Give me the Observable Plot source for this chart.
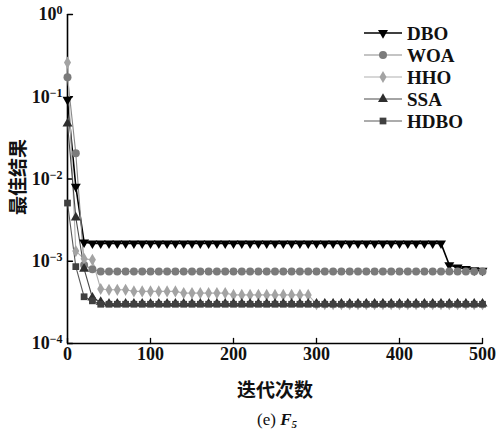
<!DOCTYPE html>
<html>
<head>
<meta charset="utf-8">
<script src="https://cdn.jsdelivr.net/npm/d3@7"></script>
<script src="https://cdn.jsdelivr.net/npm/@observablehq/plot@0.6"></script>
<style>
  body { margin: 0; background: #fff; }
  #wrap { position: relative; width: 498px; height: 437px; overflow: hidden; background: #fff; }
  #wrap > svg.plot { position: absolute; left: 0; top: 0; }
  .lbl { position: absolute; font-family: "Noto Sans CJK SC", sans-serif; font-weight: bold; color: #111; white-space: nowrap; }
  #xlab { left: 175px; width: 200px; top: 378px; text-align: center; font-size: 19px; line-height: 22px; }
  #ylab { left: 17px; top: 177px; font-size: 19px; line-height: 22px; transform: translate(-50%, -50%) rotate(-90deg); }
  #cap { position: absolute; left: 177px; width: 200px; top: 409px; text-align: center; font-family: "Liberation Serif", "Times New Roman", serif; font-size: 17px; line-height: 22px; color: #111; }
  #cap i { font-weight: bold; }
  #cap sub { font-size: 11px; font-style: italic; font-weight: bold; vertical-align: -3px; }
  #legend { position: absolute; left: 0; top: 0; pointer-events: none; }
  svg.plot text { font-family: "Liberation Serif", "Times New Roman", serif !important; font-weight: bold; }
</style>
</head>
<body>
<div id="wrap">
  <div id="ylab" class="lbl">最佳结果</div>
  <div id="xlab" class="lbl">迭代次数</div>
  <div id="cap">(e) <i>F</i><sub>5</sub></div>
</div>
<script>
// ---------- data ----------
const iterations = [0,10,20,30,40,50,60,70,80,90,100,110,120,130,140,150,160,170,180,190,200,
  210,220,230,240,250,260,270,280,290,300,310,320,330,340,350,360,370,380,390,400,
  410,420,430,440,450,460,470,480,490,500];

const seriesNames = ["DBO", "WOA", "HHO", "SSA", "HDBO"];

// one value per entry of `iterations` (0..500 step 10)
const dboValues = [0.092, 0.0081, 0.0017,
  /* 30-120 */ 0.00165,0.00165,0.00165,0.00165,0.00165,0.00165,0.00165,0.00165,0.00165,0.00165,
  /* 130-220 */ 0.00165,0.00165,0.00165,0.00165,0.00165,0.00165,0.00165,0.00165,0.00165,0.00165,
  /* 230-320 */ 0.00165,0.00165,0.00165,0.00165,0.00165,0.00165,0.00165,0.00165,0.00165,0.00165,
  /* 330-420 */ 0.00165,0.00165,0.00165,0.00165,0.00165,0.00165,0.00165,0.00165,0.00165,0.00165,
  /* 430-450 */ 0.00165,0.00165,0.00165,
  /* 460-500 */ 0.00090, 0.00084, 0.00081, 0.00078, 0.00077];

const woaValues = [0.173, 0.0206, 0.0009, 0.0008,
  0.00075,0.00075,0.00075,0.00075,0.00075,0.00075,0.00075,0.00075,0.00075,0.00075,
  0.00075,0.00075,0.00075,0.00075,0.00075,0.00075,0.00075,0.00075,0.00075,0.00075,
  0.00075,0.00075,0.00075,0.00075,0.00075,0.00075,0.00075,0.00075,0.00075,0.00075,
  0.00075,0.00075,0.00075,0.00075,0.00075,0.00075,0.00075,0.00075,0.00075,0.00075,
  0.00075,0.00075,0.00075,0.00075,0.00075,0.00075,0.00075];

const hhoValues = [0.26, 0.00133, 0.00107, 0.00104,
  0.00046, 0.00045, 0.00045, 0.00045,
  0.00043, 0.00043, 0.00043, 0.00043, 0.00043, 0.00043,
  0.00041, 0.00041, 0.00041, 0.00041, 0.00041, 0.00041,
  0.00039, 0.00039, 0.00039, 0.00039, 0.00039, 0.00039, 0.00039, 0.00039, 0.00039, 0.00039,
  0.0003,0.0003,0.0003,0.0003,0.0003,0.0003,0.0003,0.0003,0.0003,0.0003,
  0.0003,0.0003,0.0003,0.0003,0.0003,0.0003,0.0003,0.0003,0.0003,0.0003,0.0003];

const ssaValues = [0.047, 0.0034, 0.00081, 0.00036, 0.00032,
  0.000305,0.000305,0.000305,0.000305,0.000305,0.000305,0.000305,0.000305,0.000305,0.000305,
  0.000305,0.000305,0.000305,0.000305,0.000305,0.000305,0.000305,0.000305,0.000305,0.000305,
  0.000305,0.000305,0.000305,0.000305,0.000305,0.000305,0.000305,0.000305,0.000305,0.000305,
  0.000305,0.000305,0.000305,0.000305,0.000305,0.000305,0.000305,0.000305,0.000305,0.000305,
  0.000305,0.000305,0.000305,0.000305,0.000305,0.000305];

const hdboValues = [0.0051, 0.00086, 0.00037, 0.00033,
  0.0003,0.0003,0.0003,0.0003,0.0003,0.0003,0.0003,0.0003,0.0003,0.0003,
  0.0003,0.0003,0.0003,0.0003,0.0003,0.0003,0.0003,0.0003,0.0003,0.0003,
  0.0003,0.0003,0.0003,0.0003,0.0003,0.0003,0.0003,0.0003,0.0003,0.0003,
  0.0003,0.0003,0.0003,0.0003,0.0003,0.0003,0.0003,0.0003,0.0003,0.0003,
  0.0003,0.0003,0.0003,0.0003,0.0003,0.0003,0.0003];

const xTicks = [0, 100, 200, 300, 400, 500];
const yTicks = [1, 0.1, 0.01, 0.001, 0.0001];
const yTickExponents = ["0", "−1", "−2", "−3", "−4"];
const xDomain = [0, 500];
const yDomain = [0.0001, 1];

// ---------- styles ----------
const styles = {
  DBO:  {symbol: "triangle", rotate: 180, r: 3.7, fill: "#000000", line: "#000000", lw: 1.6},
  WOA:  {symbol: "circle",   rotate: 0,   r: 4.0, fill: "#7b7b7b", line: "#8a8a8a", lw: 1.1},
  HHO:  {symbol: "diamond",  rotate: 0,   r: 3.7, fill: "#a3a3a3", line: "#b0b0b0", lw: 1.1},
  SSA:  {symbol: "triangle", rotate: 0,   r: 3.7, fill: "#2e2e2e", line: "#4a4a4a", lw: 1.1},
  HDBO: {symbol: "square",   rotate: 0,   r: 3.8, fill: "#404040", line: "#5a5a5a", lw: 1.1}
};
const valuesBySeries = {DBO: dboValues, WOA: woaValues, HHO: hhoValues, SSA: ssaValues, HDBO: hdboValues};

const rows = {};
for (const name of seriesNames) {
  rows[name] = iterations.map((it, i) => ({it, v: valuesBySeries[name][i], s: name}));
}

const tickShape = {
  draw(context, l) { context.moveTo(0, 0); context.lineTo(0, -l); }
};

const serif = "Liberation Serif, Times New Roman, serif";

const marks = [
  Plot.ruleX([xDomain[0]], {x: d => d, stroke: "#000", strokeWidth: 1.6}),
  Plot.ruleY([yDomain[0]], {y: d => d, stroke: "#000", strokeWidth: 1.6}),
  Plot.vector(yTicks, {x: () => xDomain[0], y: d => d, length: 5, rotate: 90, anchor: "start", shape: tickShape, stroke: "#000", strokeWidth: 1.3}),
  Plot.vector(xTicks, {x: d => d, y: () => yDomain[0], length: 5, rotate: 0, anchor: "start", shape: tickShape, stroke: "#000", strokeWidth: 1.3})
];
for (const name of seriesNames) {
  const st = styles[name];
  marks.push(Plot.line(rows[name], {x: "it", y: "v", stroke: st.line, strokeWidth: st.lw}));
}
for (const name of seriesNames) {
  const st = styles[name];
  marks.push(Plot.dot(rows[name], {x: "it", y: "v", symbol: () => st.symbol, r: st.r, fill: st.fill, stroke: "none", rotate: st.rotate}));
}
marks.push(Plot.axisX({ticks: xTicks, tickSize: 0, tickPadding: 4, label: null, fontSize: 18, fontWeight: "bold", fontFamily: serif, fill: "#111"}));
marks.push(Plot.axisY({ticks: yTicks, tickSize: 0, tickPadding: 5, label: null, fontSize: 18, fontWeight: "bold", fontFamily: serif, fill: "#111",
  tickFormat: d => "10^" + yTickExponents[yTicks.findIndex(t => Math.abs(Math.log10(t) - Math.log10(d)) < 1e-6)]}));

const chart = Plot.plot({
  width: 498,
  height: 400,
  marginLeft: 67,
  marginRight: 16,
  marginTop: 14,
  marginBottom: 57,
  style: {fontFamily: serif, fontSize: "18px", fontWeight: "bold", background: "transparent", color: "#111"},
  x: {domain: xDomain},
  y: {type: "log", domain: yDomain},
  marks
});
chart.classList.add("plot");
document.getElementById("wrap").prepend(chart);

// superscript exponents on y tick labels
d3.select(chart).selectAll('g[aria-label="y-axis tick label"] text').each(function () {
  const t = d3.select(this);
  const txt = t.text();
  const [base, exp] = txt.split("^");
  if (exp === undefined) return;
  t.text(base);
  t.append("tspan").attr("dy", "-0.5em").attr("font-size", "12px").text(exp);
});

// ---------- legend ----------
const legendTop = 33, legendStep = 22;
const lg = d3.select("#wrap").append("svg").attr("id", "legend").attr("width", 498).attr("height", 437);
seriesNames.forEach((name, i) => {
  const st = styles[name];
  const y = legendTop + i * legendStep;
  const g = lg.append("g").attr("transform", `translate(0,${y})`);
  g.append("line").attr("x1", 364).attr("x2", 402).attr("y1", 0).attr("y2", 0)
    .attr("stroke", st.line).attr("stroke-width", st.lw);
  const sym = {triangle: d3.symbolTriangle, circle: d3.symbolCircle, diamond: d3.symbolDiamond, square: d3.symbolSquare}[st.symbol];
  g.append("path").attr("d", d3.symbol(sym, Math.PI * st.r * st.r)())
    .attr("transform", `translate(383,0) rotate(${st.rotate})`).attr("fill", st.fill);
  g.append("text").attr("x", 407).attr("y", 0).attr("dy", "0.35em")
    .attr("font-family", serif).attr("font-size", 19).attr("font-weight", "bold").attr("fill", "#111").text(name);
});
</script>
</body>
</html>
